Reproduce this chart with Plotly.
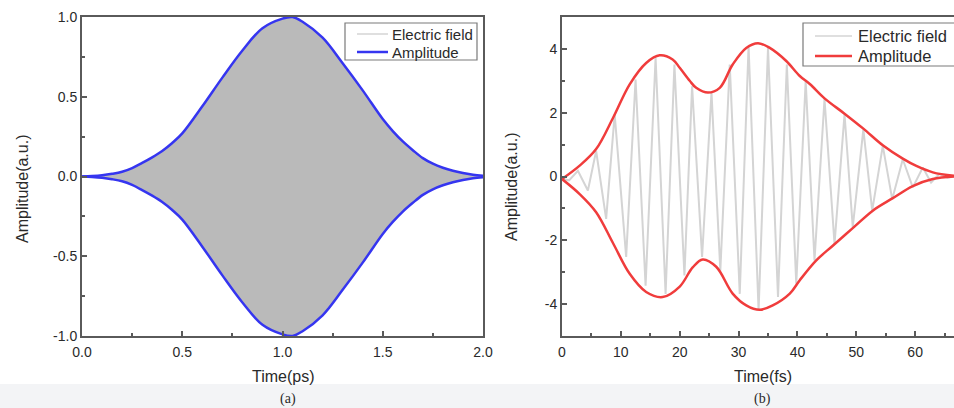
import plotly.graph_objects as go

W, H = 954, 408

# ---------------- Panel (a): ps pulse ----------------
t_a = [0.0, 0.05, 0.1, 0.15, 0.2, 0.25, 0.3, 0.35, 0.4, 0.45, 0.5, 0.6, 0.7,
       0.8, 0.9, 1.0, 1.05, 1.1, 1.2, 1.3, 1.4, 1.5, 1.55, 1.6, 1.65, 1.7,
       1.75, 1.8, 1.85, 1.9, 1.95, 2.0]
amp_a = [0.0, 0.003, 0.008, 0.017, 0.03, 0.053, 0.085, 0.12, 0.16, 0.21,
         0.27, 0.44, 0.62, 0.79, 0.93, 0.99, 1.0, 0.97, 0.87, 0.71, 0.54,
         0.36, 0.285, 0.22, 0.165, 0.115, 0.08, 0.055, 0.036, 0.022, 0.011,
         0.005]
amp_a_low = [-v for v in amp_a]

xa_ticks = [0.0, 0.5, 1.0, 1.5, 2.0]
xa_labels = ["0.0", "0.5", "1.0", "1.5", "2.0"]
xa_minor = [0.25, 0.75, 1.25, 1.75]
ya_ticks = [-1.0, -0.5, 0.0, 0.5, 1.0]
ya_labels = ["-1.0", "-0.5", "0.0", "0.5", "1.0"]
ya_minor = [-0.75, -0.25, 0.25, 0.75]

# ---------------- Panel (b): fs pulse ----------------
t_b_up = [0.0, 3.0, 5.8, 8.7, 11.5, 14.3, 16.6, 18.8, 20.0, 21.7, 22.8, 24.8,
          26.8, 29.0, 31.3, 33.3, 35.3, 38.1, 40.4, 42.1, 44.6, 48.0, 51.2,
          54.5, 57.9, 60.2, 63.0, 66.6]
amp_b_up = [-0.08, 0.34, 0.86, 1.85, 2.89, 3.56, 3.80, 3.67, 3.41, 3.00, 2.78,
            2.63, 2.78, 3.51, 4.03, 4.18, 4.03, 3.62, 3.15, 2.90, 2.45, 1.97,
            1.50, 0.98, 0.56, 0.33, 0.13, 0.02]
t_b_low = [0.0, 3.0, 5.8, 8.7, 11.5, 14.3, 17.1, 20.0, 22.2, 23.9, 26.2, 29.0,
           31.3, 33.6, 35.8, 38.7, 40.4, 43.2, 46.0, 49.4, 52.8, 56.2, 59.6,
           63.0, 66.6]
amp_b_low = [-0.08, -0.55, -1.12, -2.10, -3.05, -3.62, -3.78, -3.45, -2.85,
             -2.60, -2.83, -3.67, -4.04, -4.18, -4.04, -3.67, -3.25, -2.63,
             -2.17, -1.62, -1.07, -0.68, -0.30, -0.08, 0.0]
# electric field extrema (zig-zag trace)
t_b_field = [0.0, 1.2, 2.7, 4.4, 5.8, 7.5, 8.95, 10.9, 12.5, 14.2, 15.9, 17.6,
             19.1, 20.8, 22.1, 23.8, 25.4, 26.9, 28.5, 30.2, 31.7, 33.4, 35.0,
             36.7, 38.2, 39.8, 41.4, 42.9, 44.6, 46.3, 48.0, 49.4, 51.2, 52.7,
             54.5, 56.1, 57.9, 59.6, 61.3, 62.7, 64.1, 65.5, 66.6]
field_b = [-0.08, -0.12, 0.18, -0.44, 0.80, -1.33, 1.95, -2.52, 3.04, -3.42,
           3.72, -3.68, 3.51, -3.10, 2.83, -2.52, 2.63, -2.95, 3.51, -3.68,
           4.08, -4.20, 4.03, -3.78, 3.51, -3.36, 2.99, -2.63, 2.43, -2.11,
           1.95, -1.59, 1.48, -1.07, 0.96, -0.71, 0.54, -0.34, 0.28, -0.19,
           0.08, -0.04, 0.0]

xb_ticks = [0, 10, 20, 30, 40, 50, 60]
xb_labels = ["0", "10", "20", "30", "40", "50", "60"]
xb_minor = [5, 15, 25, 35, 45, 55, 65]
yb_ticks = [-4, -2, 0, 2, 4]
yb_labels = ["-4", "-2", "0", "2", "4"]
yb_minor = [-5, -3, -1, 1, 3, 5]

legend_names = ["Electric field", "Amplitude"]

FONT = "Liberation Sans, Arial, sans-serif"
SERIF = "Liberation Serif, Times New Roman, serif"
AX = "#5a5a5a"
TXT = "#2a2a2a"
GRAY_FILL = "#bababa"
GRAY_LINE = "#d4d4d4"
BLUE = "#3535f0"
RED = "#f03c3c"


def px(x):
    return x / W


def py(y):
    return 1 - y / H


fig = go.Figure()

# (a) electric field: dense carrier rendered as gray band between envelopes
fig.add_trace(go.Scatter(
    x=t_a + t_a[::-1], y=amp_a + amp_a_low[::-1], fill="toself",
    fillcolor=GRAY_FILL, line=dict(width=0, shape="spline"), mode="lines",
    name=legend_names[0], showlegend=False, hoverinfo="skip",
    xaxis="x", yaxis="y"))
fig.add_trace(go.Scatter(
    x=t_a, y=amp_a, mode="lines", name=legend_names[1], showlegend=False,
    line=dict(color=BLUE, width=2.5, shape="spline"), xaxis="x", yaxis="y"))
fig.add_trace(go.Scatter(
    x=t_a, y=amp_a_low, mode="lines", name=legend_names[1], showlegend=False,
    line=dict(color=BLUE, width=2.5, shape="spline"), xaxis="x", yaxis="y"))

# (b)
fig.add_trace(go.Scatter(
    x=t_b_field, y=field_b, mode="lines", name=legend_names[0],
    showlegend=False, line=dict(color=GRAY_LINE, width=2),
    xaxis="x2", yaxis="y2"))
fig.add_trace(go.Scatter(
    x=t_b_up, y=amp_b_up, mode="lines", name=legend_names[1], showlegend=False,
    line=dict(color=RED, width=2.5, shape="spline"), xaxis="x2", yaxis="y2"))
fig.add_trace(go.Scatter(
    x=t_b_low, y=amp_b_low, mode="lines", name=legend_names[1],
    showlegend=False, line=dict(color=RED, width=2.5, shape="spline"),
    xaxis="x2", yaxis="y2"))


def axis(domain, rng, tv, tt, minor, anchor, mirror, standoff):
    return dict(
        domain=domain, range=rng, anchor=anchor, tickmode="array",
        tickvals=tv, ticktext=tt, ticks="inside", ticklen=5, tickwidth=1.5,
        tickcolor=AX, showline=True, linecolor=AX, linewidth=2,
        mirror=mirror, showgrid=False, zeroline=False, automargin=False,
        ticklabelstandoff=standoff,
        tickfont=dict(family=FONT, size=14, color=TXT),
        minor=dict(tickmode="array", tickvals=minor, ticks="inside",
                   ticklen=3, tickwidth=1.5, tickcolor=AX, showgrid=False),
    )


shapes = [dict(type="rect", xref="paper", yref="paper", x0=0, x1=1,
               y0=0, y1=py(384), fillcolor="#f3f4f6", line=dict(width=0),
               layer="below")]
annotations = []


def text(s, x, y, size, family=FONT, angle=0, xanchor="center"):
    return dict(text=s, x=px(x), y=py(y), xref="paper", yref="paper",
                xanchor=xanchor, yanchor="middle", showarrow=False,
                textangle=angle, font=dict(family=family, size=size, color=TXT))


def add_legend(box, line_x, text_x, rows, colors, widths, size):
    x0, x1, y0, y1 = box
    shapes.append(dict(type="rect", xref="paper", yref="paper",
                       x0=px(x0), x1=px(x1), y0=py(y1), y1=py(y0),
                       fillcolor="white", line=dict(color="#7a7a7a", width=1.2)))
    for name, yy, c, w in zip(legend_names, rows, colors, widths):
        shapes.append(dict(type="line", xref="paper", yref="paper",
                           x0=px(line_x[0]), x1=px(line_x[1]),
                           y0=py(yy), y1=py(yy), line=dict(color=c, width=w)))
        annotations.append(text(name, text_x, yy, size, xanchor="left"))


add_legend((345, 477, 23, 60), (357, 388), 390, (34, 52),
           (GRAY_LINE, BLUE), (1.5, 2.5), 15)
add_legend((803, 960, 23, 66), (815, 852), 856, (36, 56),
           (GRAY_LINE, RED), (1.5, 2.5), 16.5)

annotations += [
    text("Time(ps)", 283, 376, 16),
    text("Time(fs)", 763, 376, 16),
    text("Amplitude(a.u.)", 22, 189, 16, angle=-90),
    text("Amplitude(a.u.)", 512, 187, 16, angle=-90),
    text("(a)", 288, 399, 14, family=SERIF),
    text("(b)", 762, 399, 14, family=SERIF),
]

ydom = [py(336), py(17)]
fig.update_layout(
    width=W, height=H, margin=dict(l=0, r=0, t=0, b=0, autoexpand=False),
    paper_bgcolor="white", plot_bgcolor="white", showlegend=False,
    font=dict(family=FONT, color=TXT),
    xaxis=axis([px(82), px(483)], [0, 2], xa_ticks, xa_labels, xa_minor,
               "y", True, 2),
    yaxis=axis(ydom, [-1, 1], ya_ticks, ya_labels, ya_minor, "x", True, 0),
    xaxis2=axis([px(562), 1.0], [0, 66.6], xb_ticks, xb_labels, xb_minor,
                "y2", True, 2),
    yaxis2=axis(ydom, [-5, 5], yb_ticks, yb_labels, yb_minor, "x2", False, 0),
    shapes=shapes,
    annotations=annotations,
)

fig.write_html(
    "out.html",
    config={"displayModeBar": False},
    post_script="document.body.style.margin='0';"
                "document.body.style.overflow='hidden';")
